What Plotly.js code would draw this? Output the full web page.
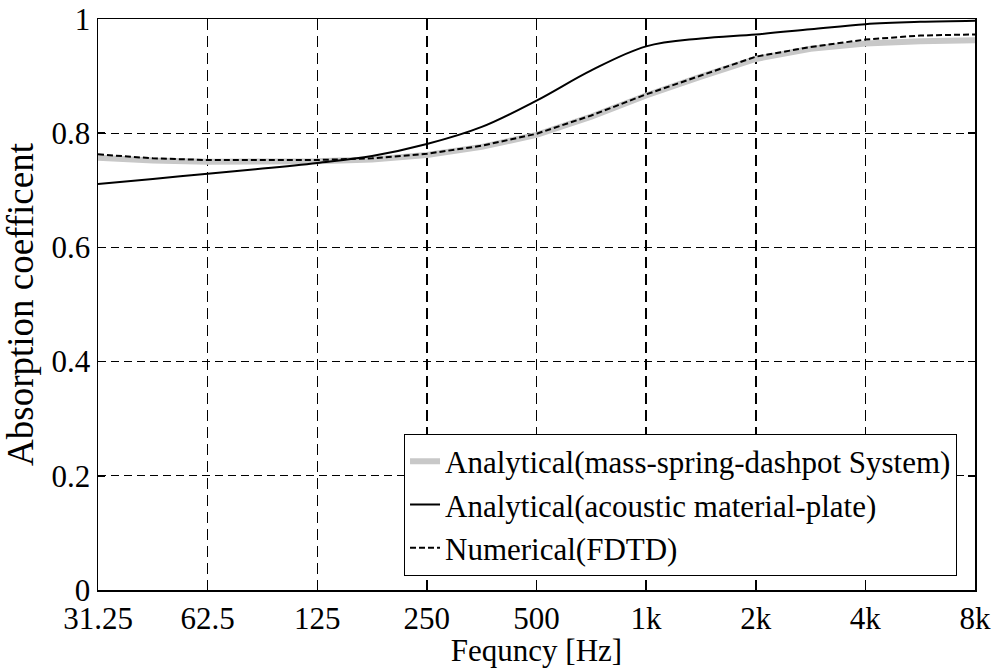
<!DOCTYPE html>
<html>
<head>
<meta charset="utf-8">
<script src="https://cdn.plot.ly/plotly-3.0.1.min.js"></script>
<style>html,body{margin:0;padding:0;background:#fff;}#chart{width:998px;height:668px;}</style>
</head>
<body>
<div id="chart"></div>
<script>
// Frequencies (Hz)
const freq = [31.25, 44.2, 62.5, 88.4, 125, 176.8, 250, 353.6, 500, 707.1, 1000, 1414, 2000, 2828, 4000, 5657, 8000];
// Analytical (mass-spring-dashpot System)
const massSpring = [0.757, 0.752, 0.750, 0.750, 0.751, 0.754, 0.762, 0.776, 0.797, 0.829, 0.866, 0.899, 0.930, 0.948, 0.957, 0.961, 0.963];
// Analytical (acoustic material-plate)
const materialPlate = [0.711, 0.720, 0.729, 0.738, 0.748, 0.760, 0.781, 0.811, 0.857, 0.910, 0.952, 0.966, 0.973, 0.982, 0.991, 0.995, 0.997];
// Numerical (FDTD)
const fdtd = [0.763, 0.756, 0.753, 0.753, 0.753, 0.756, 0.764, 0.778, 0.799, 0.831, 0.868, 0.901, 0.934, 0.951, 0.964, 0.971, 0.973];

const tickVals = [31.25, 62.5, 125, 250, 500, 1000, 2000, 4000, 8000];
const tickText = ['31.25', '62.5', '125', '250', '500', '1k', '2k', '4k', '8k'];
const yTicks = [0, 0.2, 0.4, 0.6, 0.8, 1];
const yText = ['0', '0.2', '0.4', '0.6', '0.8', '1'];

const F = '"Liberation Serif", serif';

const traces = [
  {x: freq, y: massSpring, mode: 'lines', name: 'Analytical(mass-spring-dashpot System)',
   line: {color: '#c8c8c8', width: 6}},
  {x: freq, y: materialPlate, mode: 'lines', name: 'Analytical(acoustic material-plate)',
   line: {color: '#000', width: 2, shape: 'spline'}},
  {x: freq, y: fdtd, mode: 'lines', name: 'Numerical(FDTD)',
   line: {color: '#000', width: 2, dash: '6px,3px'}}
];

const layout = {
  width: 998, height: 668,
  margin: {l: 97.5, r: 23, t: 18.5, b: 77.5},
  paper_bgcolor: '#fff', plot_bgcolor: '#fff',
  font: {family: F, color: '#000', size: 30},
  showlegend: true,
  xaxis: {
    type: 'log', range: [Math.log10(31.25), Math.log10(8000)],
    tickvals: tickVals, ticktext: tickText,
    ticks: 'inside', ticklen: 7, tickwidth: 1.5, tickcolor: '#000',
    showline: true, linecolor: '#000', linewidth: 1.5, mirror: 'ticks',
    showgrid: true, gridcolor: '#000', gridwidth: 1.5, griddash: '11px,6px',
    zeroline: false,
    tickfont: {family: F, size: 31, color: '#000'},
    title: {text: 'Fequncy [Hz]', font: {family: F, size: 31, color: '#000'}, standoff: 0}
  },
  yaxis: {
    range: [0, 1],
    tickvals: yTicks, ticktext: yText,
    ticks: 'inside', ticklen: 7, tickwidth: 1.5, tickcolor: '#000',
    showline: true, linecolor: '#000', linewidth: 1.5, mirror: 'ticks',
    showgrid: true, gridcolor: '#000', gridwidth: 1, griddash: '8px,5px',
    zeroline: false,
    tickfont: {family: F, size: 31, color: '#000'},
    title: {text: 'Absorption coefficent', font: {family: F, size: 37, color: '#000'}, standoff: 8}
  },
  legend: {
    x: 0.9795, xanchor: 'right', y: 0.0253, yanchor: 'bottom',
    bgcolor: '#fff', bordercolor: '#000', borderwidth: 1,
    font: {family: F, size: 31, color: '#000'},
    tracegroupgap: 0, itemwidth: 30,
    entrywidthmode: 'pixels', entrywidth: 548
  }
};

Plotly.newPlot('chart', traces, layout, {displayModeBar: false, staticPlot: true});
</script>
</body>
</html>
